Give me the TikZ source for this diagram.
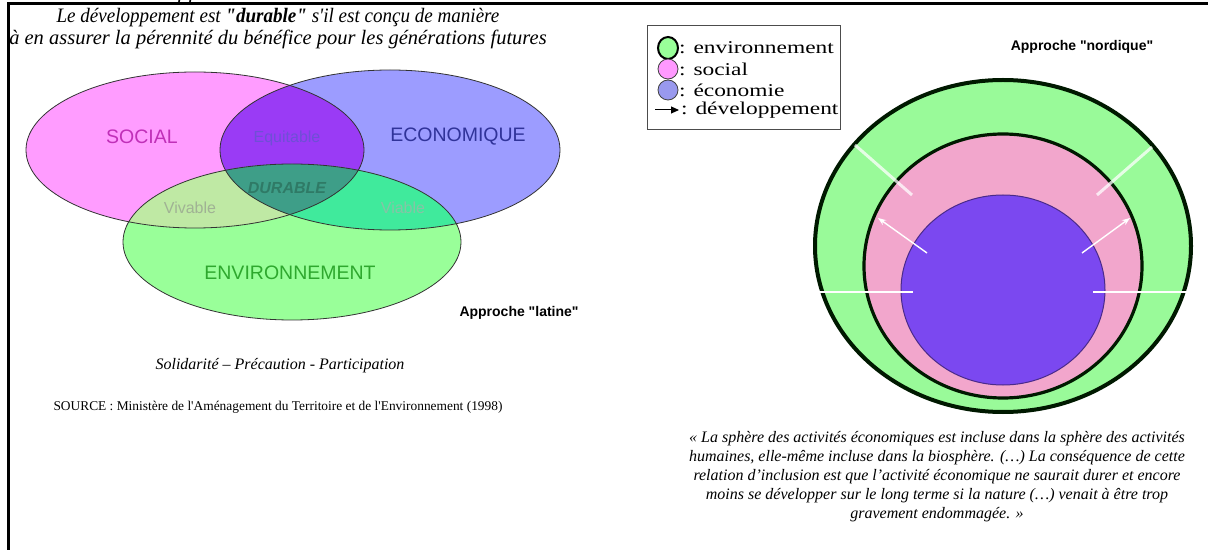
\documentclass[tikz,border=0pt]{standalone}
\usepackage{fontspec}
\setmainfont{Liberation Serif}[Ligatures=TeXOff]
\setsansfont{Liberation Sans}[Ligatures=TeXOff]
\newfontfamily\legfont[FakeStretch=1.3,Ligatures=TeXOff]{Liberation Serif}
\usetikzlibrary{arrows.meta}
\definecolor{socC}{HTML}{FF9CFF}
\definecolor{ecoC}{HTML}{9C9CFF}
\definecolor{envC}{HTML}{99FF99}
\definecolor{seC}{HTML}{9A3BF5}
\definecolor{snC}{HTML}{BFE9A4}
\definecolor{enC}{HTML}{40EA9C}
\definecolor{allC}{HTML}{3E9E88}
\definecolor{greenC}{HTML}{99FA99}
\definecolor{pinkC}{HTML}{F2A6CC}
\definecolor{purpC}{HTML}{7B48F0}
\definecolor{legblue}{HTML}{9999EE}
\definecolor{legpink}{HTML}{FF99FF}
\definecolor{socT}{HTML}{C030B8}
\definecolor{ecoT}{HTML}{303399}
\definecolor{envT}{HTML}{2EA82E}
\definecolor{equT}{HTML}{6F4FD6}
\definecolor{durT}{HTML}{2F7A66}
\definecolor{vivT}{HTML}{A0B294}
\definecolor{viaT}{HTML}{86C4A6}
\definecolor{purpL}{HTML}{4A2A8A}
\newcommand\fsz[2]{\fontsize{#1bp}{#2bp}\selectfont}
\def\soc{(195,150) ellipse [x radius=169bp, y radius=78bp]}
\def\eco{(390,150) ellipse [x radius=170bp, y radius=80bp]}
\def\env{(292,242) ellipse [x radius=169bp, y radius=78bp]}
\tikzset{
  outl/.style={draw=black!80, line width=0.8bp},
  vlab/.style={font=\sffamily\fsz{19.5}{22}},
  slab/.style={font=\sffamily\fsz{16}{18}},
  apr/.style={font=\sffamily\bfseries\fsz{14}{16}},
  legt/.style={anchor=west, font=\legfont\fsz{18}{20}, inner sep=0pt},
  devarrow/.style={white, line width=1.4bp, -{Stealth[length=8bp,width=6bp]}},
  faded/.style={white, opacity=0.75, line width=3bp},
  cut/.style={white, line width=2.5bp}
}
\begin{document}
\begin{tikzpicture}[x=1bp,y=-1bp]
\useasboundingbox (0,0) rectangle (1208,550);
\fill[white] (0,0) rectangle (1208,550);
% frame
\draw[line width=3bp] (8,550) -- (8,4) -- (1208,4);
\begin{scope}
\clip (0,0) rectangle (1208,3);
\node[anchor=base west, inner sep=0pt, font=\itshape\fsz{22}{24}] (cutoff) at (178,-1) {pp};
\end{scope}
% top text
\node[anchor=base, inner sep=0pt, font=\itshape\fsz{20.5}{22}] (t1) at (278,23) {\scalebox{0.93}[1]{Le développement est {\bfseries "durable"} s'il est conçu de manière}};
\node[anchor=base, inner sep=0pt, font=\itshape\fsz{20.5}{22}] (t2) at (278,45) {à en assurer la pérennité du bénéfice pour les générations futures};
% Venn
\fill[socC] \soc;
\fill[ecoC] \eco;
\fill[envC] \env;
\begin{scope}\clip \soc; \fill[seC] \eco; \end{scope}
\begin{scope}\clip \soc; \fill[snC] \env; \end{scope}
\begin{scope}\clip \eco; \fill[enC] \env; \end{scope}
\begin{scope}\clip \soc; \clip \eco; \fill[allC] \env; \end{scope}
\draw[outl] \soc;
\draw[outl] \eco;
\draw[outl] \env;
\node[vlab, text=socT] (social) at (142,137) {SOCIAL};
\node[vlab, text=ecoT] (economique) at (458,137) {ECONOMIQUE};
\node[vlab, text=envT] (environnement) at (290,273) {ENVIRONNEMENT};
\node[slab, text=equT] (equitable) at (287,138) {Equitable};
\node[slab, text=durT, font=\sffamily\bfseries\itshape\fsz{16}{18}] (durable) at (287,188) {DURABLE};
\node[slab, text=vivT] (vivable) at (190,208) {Vivable};
\node[slab, text=viaT] (viable) at (403,208) {Viable};
\node[apr, anchor=west] (latine) at (456,313) {Approche "latine"};
\node[font=\itshape\fsz{16}{18}] (solid) at (280,366) {Solidarité – Précaution - Participation};
\node[anchor=west, font=\fsz{13.4}{15}] (source) at (50,407) {SOURCE : Ministère de l'Aménagement du Territoire et de l'Environnement (1998)};
% legend
\draw[black!70, line width=0.8bp] (647,25) rectangle (840,129);
\fill[envC] (668,48) ellipse [x radius=10bp, y radius=11bp];
\draw[black, line width=2bp] (668,48) ellipse [x radius=10bp, y radius=11bp];
\filldraw[fill=legpink, draw=black!75, line width=0.8bp] (668,69) ellipse [x radius=10bp, y radius=10bp];
\filldraw[fill=legblue, draw=black!75, line width=0.8bp] (668,90) ellipse [x radius=10bp, y radius=10bp];
\coordinate (la1) at (655,110);
\coordinate (la2) at (679,110);
\draw[black, line width=1bp, -{Triangle[length=8bp,width=7bp]}] (la1) -- (la2);
\node[legt] (lenv) at (679,48) {: environnement};
\node[legt] (lsoc) at (679,69) {: social};
\node[legt] (leco) at (679,90) {: économie};
\node[legt] (ldev) at (681,110) {: développement};
% nested circles
\node[apr] (nordique) at (1082,47) {Approche "nordique"};
\fill[greenC] (1003,246) ellipse [x radius=188bp, y radius=166bp];
\draw[black!90!green, line width=4bp] (1003,246) ellipse [x radius=188bp, y radius=166bp];
\fill[pinkC] (1003,266) ellipse [x radius=139bp, y radius=132bp];
\draw[black!90!green, line width=3.2bp] (1003,266) ellipse [x radius=139bp, y radius=132bp];
\filldraw[fill=purpC, draw=purpL, line width=1bp] (1003,290) ellipse [x radius=102bp, y radius=95bp];
% development arrows
\coordinate (a1s) at (927,253); \coordinate (a1e) at (878,218);
\coordinate (a2s) at (1082,253); \coordinate (a2e) at (1130,218);
\draw[devarrow] (a1s) -- (a1e);
\draw[devarrow] (a2s) -- (a2e);
\coordinate (f1s) at (855,145); \coordinate (f1e) at (912,195);
\coordinate (f2s) at (1152,147); \coordinate (f2e) at (1097,195);
\draw[faded] (f1s) -- (f1e);
\draw[faded] (f2s) -- (f2e);
\coordinate (h1s) at (812,292); \coordinate (h1e) at (913,292);
\coordinate (h2s) at (1093,292); \coordinate (h2e) at (1195,292);
\draw[cut] (h1s) -- (h1e);
\draw[cut] (h2s) -- (h2e);
% quote
\node[align=center, font=\itshape\fsz{16}{19}] (quote) at (937,477) {« La sphère des activités économiques est incluse dans la sphère des activités\\humaines, elle-même incluse dans la biosphère. (…) La conséquence de cette\\relation d’inclusion est que l’activité économique ne saurait durer et encore\\moins se développer sur le long terme si la nature (…) venait à être trop\\gravement endommagée. »};
\end{tikzpicture}
\end{document}
